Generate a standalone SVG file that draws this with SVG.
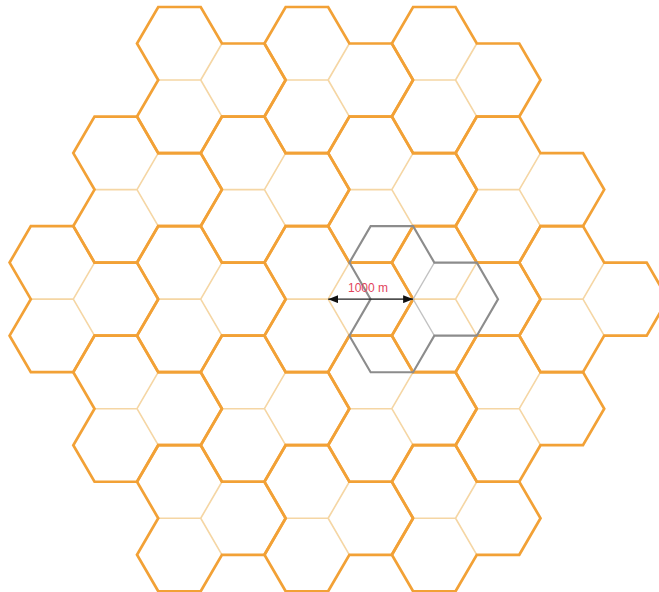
<svg xmlns="http://www.w3.org/2000/svg" width="659" height="592" viewBox="0 0 659 592">
  <style>
    .thin { fill: none; stroke: #F5D6A4; stroke-width: 1.6; }
    .thick { fill: none; stroke: #F2A136; stroke-width: 2.7; stroke-linejoin: miter; }
    .gin { fill: none; stroke: #C2C2C2; stroke-width: 1.3; }
    .gout { fill: none; stroke: #8C8C8C; stroke-width: 2.1; }
    .dim { stroke: #222222; stroke-width: 1.4; fill: none; }
    .lbl { font-family: "Liberation Sans", Arial, sans-serif; font-size: 12px; fill: #E2445C; }
  </style>
  <defs>
    <path id="yarm" d="M0,0 H-42.48 M0,0 L21.24,-36.52 M0,0 L21.24,36.52"/>
    <path id="outline" d="M-42.48,-73.04 h42.48 l21.24,36.52 h42.48 l21.24,36.52 l-21.24,36.52 h-42.48 l-21.24,36.52 h-42.48 l-21.24,-36.52 l21.24,-36.52 l-21.24,-36.52 z"/>
    <marker id="ah" viewBox="0 0 10 8" refX="10" refY="4" markerWidth="10" markerHeight="8" markerUnits="userSpaceOnUse" orient="auto-start-reverse">
      <path d="M0,0 L10,4 L0,8 z" fill="#111111"/>
    </marker>
  </defs>
  <rect x="0" y="0" width="659" height="592" fill="#FFFFFF"/>

  <g id="sites">
    <g id="site-1-7" transform="translate(73.30,299.14)"><use href="#yarm" class="thin"/><use href="#outline" class="thick"/></g>
    <g id="site-2-4" transform="translate(137.01,189.58)"><use href="#yarm" class="thin"/><use href="#outline" class="thick"/></g>
    <g id="site-2-10" transform="translate(137.01,408.70)"><use href="#yarm" class="thin"/><use href="#outline" class="thick"/></g>
    <g id="site-3-1" transform="translate(200.72,80.02)"><use href="#yarm" class="thin"/><use href="#outline" class="thick"/></g>
    <g id="site-3-7" transform="translate(200.72,299.14)"><use href="#yarm" class="thin"/><use href="#outline" class="thick"/></g>
    <g id="site-3-13" transform="translate(200.72,518.26)"><use href="#yarm" class="thin"/><use href="#outline" class="thick"/></g>
    <g id="site-4-4" transform="translate(264.43,189.58)"><use href="#yarm" class="thin"/><use href="#outline" class="thick"/></g>
    <g id="site-4-10" transform="translate(264.43,408.70)"><use href="#yarm" class="thin"/><use href="#outline" class="thick"/></g>
    <g id="site-5-1" transform="translate(328.14,80.02)"><use href="#yarm" class="thin"/><use href="#outline" class="thick"/></g>
    <g id="site-5-7" transform="translate(328.14,299.14)"><use href="#yarm" class="thin"/><use href="#outline" class="thick"/></g>
    <g id="site-5-13" transform="translate(328.14,518.26)"><use href="#yarm" class="thin"/><use href="#outline" class="thick"/></g>
    <g id="site-6-4" transform="translate(391.85,189.58)"><use href="#yarm" class="thin"/><use href="#outline" class="thick"/></g>
    <g id="site-6-10" transform="translate(391.85,408.70)"><use href="#yarm" class="thin"/><use href="#outline" class="thick"/></g>
    <g id="site-7-1" transform="translate(455.56,80.02)"><use href="#yarm" class="thin"/><use href="#outline" class="thick"/></g>
    <g id="site-7-7" transform="translate(455.56,299.14)"><use href="#yarm" class="thin"/><use href="#outline" class="thick"/></g>
    <g id="site-7-13" transform="translate(455.56,518.26)"><use href="#yarm" class="thin"/><use href="#outline" class="thick"/></g>
    <g id="site-8-4" transform="translate(519.27,189.58)"><use href="#yarm" class="thin"/><use href="#outline" class="thick"/></g>
    <g id="site-8-10" transform="translate(519.27,408.70)"><use href="#yarm" class="thin"/><use href="#outline" class="thick"/></g>
    <g id="site-9-7" transform="translate(582.98,299.14)"><use href="#yarm" class="thin"/><use href="#outline" class="thick"/></g>
  </g>

  <g id="gray-site" transform="translate(413.10,299.14)">
    <use href="#yarm" class="gin"/>
    <use href="#outline" class="gout"/>
  </g>

  <g id="connectors">
    <line class="dim" x1="328.14" y1="299.14" x2="413.10" y2="299.14" marker-start="url(#ah)" marker-end="url(#ah)"/>
  </g>
  <g id="label">
    <text class="lbl" x="368" y="292" text-anchor="middle">1000 m</text>
  </g>
</svg>
